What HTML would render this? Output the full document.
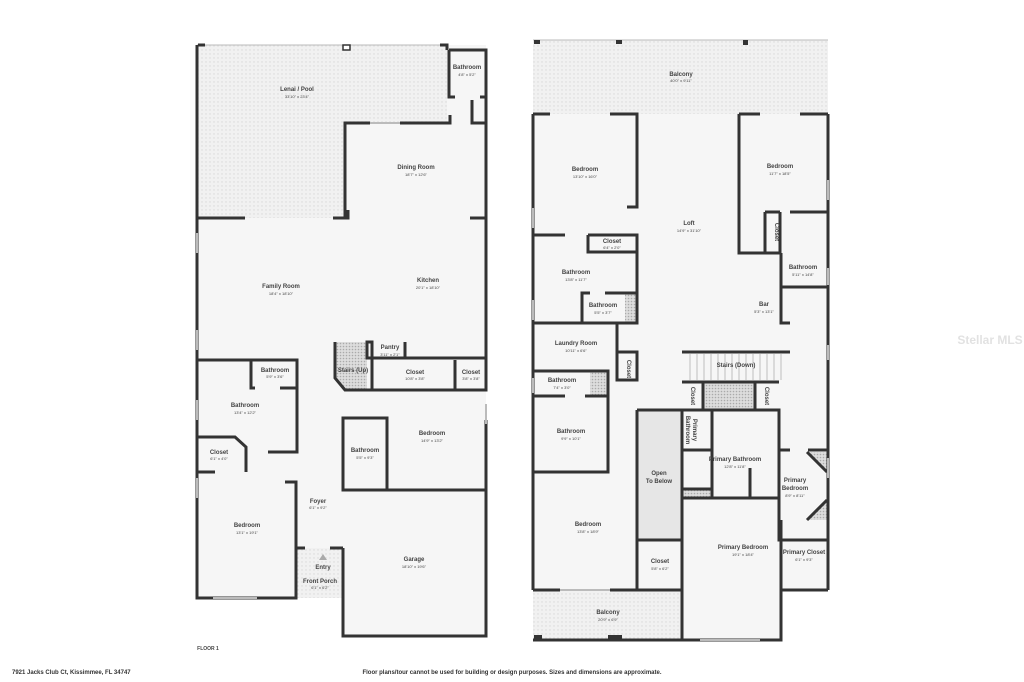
<!DOCTYPE html>
<html><head><meta charset="utf-8"><style>
html,body{margin:0;padding:0;background:#fff;width:1024px;height:682px;overflow:hidden}
svg text{font-family:"Liberation Sans",sans-serif;fill:#444;text-anchor:middle}
.n{font-size:6px;font-weight:bold}
.d{font-size:4px}
</style></head><body>
<svg width="1024" height="682" viewBox="0 0 1024 682" xmlns="http://www.w3.org/2000/svg">
<defs>
<pattern id="h" width="4" height="4" patternUnits="userSpaceOnUse"><rect width="4" height="4" fill="#f1f1f1"/><circle cx="2" cy="2" r="0.7" fill="#d8d8d8"/></pattern>
<pattern id="h2" width="3" height="3" patternUnits="userSpaceOnUse"><rect width="3" height="3" fill="#ddd"/><circle cx="1.5" cy="1.5" r="0.8" fill="#aaa"/></pattern>
</defs>
<rect x="197" y="45" width="289" height="553" fill="#f6f6f6"/>
<rect x="343" y="490" width="143" height="146" fill="#f6f6f6"/>
<path d="M197 45H447V123H345V218H197Z" fill="url(#h)"/>
<rect x="297" y="548" width="46" height="50" fill="url(#h)"/>
<path d="M335 342H367V390H345L335 378Z" fill="url(#h2)"/>
<g stroke="#bbb" stroke-width="1"><path d="M197 45H447"/></g>
<g stroke="#333" stroke-width="3" fill="none">
<path d="M197 45V598H296V482H285"/>
<path d="M198 45H205M440 45H447V50M449 50H486V360"/>
<path d="M449 50V97H455M480 97H486M472 100V123H486"/>
<path d="M345 218V123H370M400 123H450V115"/>
<path d="M197 218H245M333 218H348V210"/>
<path d="M470 218H486"/>
<path d="M197 360H297V452H268M251 360V388H255M280 388H297"/>
<path d="M197 437H235L246 447V472M197 472H215"/>
<path d="M343 548V636H486V490H343V418H387V490M387 390H486V360M486 490V420"/>
<path d="M296 548H305M330 548H343"/>
<path d="M335 342V378L345 390H372V342H367V358H405V342M372 358H486M372 390H430M445 390H486M455 360V390"/>
<path d="M197 598H213M257 598H296"/>
</g>
<g stroke="#bbb" stroke-width="2"><path d="M197 233V253M197 330V350M197 400V420M197 478V498M213 598H257M486 404V424M370 123H400"/></g>
<rect x="343" y="45" width="7" height="5" fill="#fff" stroke="#333" stroke-width="1.5"/>
<text class="n" x="297" y="91">Lenai / Pool</text><text class="d" x="297" y="98">33'10" x 23'4"</text>
<text class="n" x="467" y="69">Bathroom</text><text class="d" x="467" y="76">4'8" x 5'2"</text>
<text class="n" x="416" y="169">Dining Room</text><text class="d" x="416" y="176">18'7" x 12'6"</text>
<text class="n" x="281" y="288">Family Room</text><text class="d" x="281" y="295">18'4" x 18'10"</text>
<text class="n" x="428" y="282">Kitchen</text><text class="d" x="428" y="289">20'1" x 18'10"</text>
<text class="n" x="390" y="349">Pantry</text><text class="d" x="390" y="356">3'11" x 2'1"</text>
<text class="n" x="353" y="372">Stairs (Up)</text>
<text class="n" x="415" y="374">Closet</text><text class="d" x="415" y="380">10'8" x 3'8"</text>
<text class="n" x="471" y="374">Closet</text><text class="d" x="471" y="380">3'8" x 3'8"</text>
<text class="n" x="275" y="372">Bathroom</text><text class="d" x="275" y="378">5'9" x 3'6"</text>
<text class="n" x="245" y="407">Bathroom</text><text class="d" x="245" y="414">13'4" x 12'2"</text>
<text class="n" x="219" y="454">Closet</text><text class="d" x="219" y="460">6'1" x 4'0"</text>
<text class="n" x="365" y="452">Bathroom</text><text class="d" x="365" y="459">5'5" x 9'3"</text>
<text class="n" x="432" y="435">Bedroom</text><text class="d" x="432" y="442">14'9" x 13'2"</text>
<text class="n" x="318" y="503">Foyer</text><text class="d" x="318" y="509">6'1" x 9'2"</text>
<text class="n" x="247" y="527">Bedroom</text><text class="d" x="247" y="534">13'1" x 19'1"</text>
<path d="M319 560L323 554L327 560Z" fill="#aaa"/>
<text class="n" x="323" y="569">Entry</text>
<text class="n" x="320" y="583">Front Porch</text><text class="d" x="320" y="589">6'1" x 6'2"</text>
<text class="n" x="414" y="561">Garage</text><text class="d" x="414" y="568">18'10" x 19'6"</text>
<text class="n" x="208" y="650" style="font-size:5px">FLOOR 1</text>
<rect x="533" y="40" width="295" height="550" fill="#f6f6f6"/>
<rect x="682" y="590" width="99" height="50" fill="#f6f6f6"/>
<rect x="533" y="40" width="295" height="74" fill="url(#h)"/>
<rect x="533" y="590" width="149" height="50" fill="url(#h)"/>
<rect x="638" y="410" width="44" height="130" fill="#e6e6e6"/>
<rect x="625" y="293" width="12" height="30" fill="url(#h2)"/><rect x="590" y="371" width="18" height="25" fill="url(#h2)"/>
<rect x="704" y="382" width="51" height="28" fill="url(#h2)"/><rect x="683" y="489" width="29" height="9" fill="url(#h2)"/>
<path d="M807 452H827V472Z" fill="url(#h2)"/><path d="M827 500V520H807Z" fill="url(#h2)"/>
<g stroke="#333" stroke-width="3" fill="none">
<path d="M533 114V590M828 114V590"/>
<path d="M533 114H550M610 114H637V207H627M739 114H760M800 114H828M739 114V253H780V212M765 212V253M765 212H780M790 212H828"/>
<path d="M533 235H565M588 235H637V252H588V235"/>
<path d="M533 323H637V235M582 323V293H590M605 293H637"/>
<path d="M617 323V380H637V352H617"/>
<path d="M533 371H608V396H590M533 396H565M585 396H608V472H533M533 472H560M580 472H608"/>
<path d="M637 410V590M637 540H682V410H637M682 410H779V498H682V640"/>
<path d="M682 352H790M682 382H779M703 382V410M755 382V410M712 410V450M682 450H712V489H682M712 489V498M750 468V498"/>
<path d="M779 498V540H828M781 520V590H828M781 590V640H682M533 640H682"/>
<path d="M779 450H790M808 450H828M807 452L827 472M827 500L807 520"/>
<path d="M781 287H828M790 323H781V253"/>
<path d="M533 590H560M610 590H682"/>
</g>
<g stroke="#bbb" stroke-width="2"><path d="M533 208V228M533 300V320M533 378V393M828 180V200M828 268V285M828 345V360M828 458V478M560 590H610M700 640H760"/></g>
<g stroke="#bbb" stroke-width="1"><path d="M533 40H828"/></g>
<g fill="#333"><rect x="534" y="40" width="6" height="4"/><rect x="616" y="40" width="6" height="4"/><rect x="743" y="40" width="5" height="5"/><rect x="534" y="635" width="8" height="5"/><rect x="608" y="635" width="14" height="5"/></g>
<g stroke="#999" stroke-width="0.6"><path d="M690 354V380M697 354V380M704 354V380M711 354V380M718 354V380M725 354V380M732 354V380M739 354V380M746 354V380M753 354V380M760 354V380M767 354V380M774 354V380M781 354V380"/></g>
<text class="n" x="681" y="76">Balcony</text><text class="d" x="681" y="82">40'0" x 9'11"</text>
<text class="n" x="585" y="171">Bedroom</text><text class="d" x="585" y="178">13'10" x 16'0"</text>
<text class="n" x="780" y="168">Bedroom</text><text class="d" x="780" y="175">11'7" x 18'5"</text>
<text class="n" x="689" y="225">Loft</text><text class="d" x="689" y="232">14'9" x 31'10"</text>
<text class="n" x="612" y="243">Closet</text><text class="d" x="612" y="249">6'4" x 2'0"</text>
<text class="n" x="576" y="274">Bathroom</text><text class="d" x="576" y="281">13'8" x 11'7"</text>
<text class="n" x="603" y="307">Bathroom</text><text class="d" x="603" y="314">5'5" x 3'7"</text>
<text class="n" x="803" y="269">Bathroom</text><text class="d" x="803" y="276">5'11" x 14'8"</text>
<text class="n" x="764" y="306">Bar</text><text class="d" x="764" y="313">5'3" x 13'1"</text>
<text class="n" x="576" y="345">Laundry Room</text><text class="d" x="576" y="352">10'11" x 6'6"</text>
<text class="n" x="562" y="382">Bathroom</text><text class="d" x="562" y="389">7'4" x 3'0"</text>
<text class="n" x="571" y="433">Bathroom</text><text class="d" x="571" y="440">9'9" x 10'1"</text>
<text class="n" x="736" y="367">Stairs (Down)</text>
<text class="n" x="659" y="475">Open</text><text class="n" x="659" y="483">To Below</text>
<text class="n" x="735" y="461">Primary Bathroom</text><text class="d" x="735" y="468">12'8" x 11'8"</text>
<text class="n" x="795" y="482">Primary</text><text class="n" x="795" y="490">Bedroom</text><text class="d" x="795" y="497">8'9" x 8'11"</text>
<text class="n" x="588" y="526">Bedroom</text><text class="d" x="588" y="533">13'8" x 18'9"</text>
<text class="n" x="660" y="563">Closet</text><text class="d" x="660" y="570">5'8" x 6'2"</text>
<text class="n" x="743" y="549">Primary Bedroom</text><text class="d" x="743" y="556">19'1" x 18'4"</text>
<text class="n" x="804" y="554">Primary Closet</text><text class="d" x="804" y="561">6'1" x 9'3"</text>
<text class="n" x="608" y="614">Balcony</text><text class="d" x="608" y="621">20'9" x 6'9"</text>
<text class="n" transform="translate(775,232) rotate(90)">Closet</text>
<text class="n" transform="translate(627,369) rotate(90)">Closet</text>
<text class="n" transform="translate(691,396) rotate(90)">Closet</text>
<text class="n" transform="translate(765,396) rotate(90)">Closet</text>
<text class="n" transform="translate(693,430) rotate(90)">Primary</text>
<text class="n" transform="translate(686,430) rotate(90)">Bathroom</text>
<text class="n" x="12" y="674" style="font-size:6px;text-anchor:start;fill:#333">7921 Jacks Club Ct, Kissimmee, FL 34747</text>
<text class="n" x="512" y="674" style="font-size:6px;fill:#333">Floor plans/tour cannot be used for building or design purposes. Sizes and dimensions are approximate.</text>
<text x="990" y="344" style="font-size:12px;font-weight:bold;fill:#e2e2e2">Stellar MLS</text>
</svg>
</body></html>
